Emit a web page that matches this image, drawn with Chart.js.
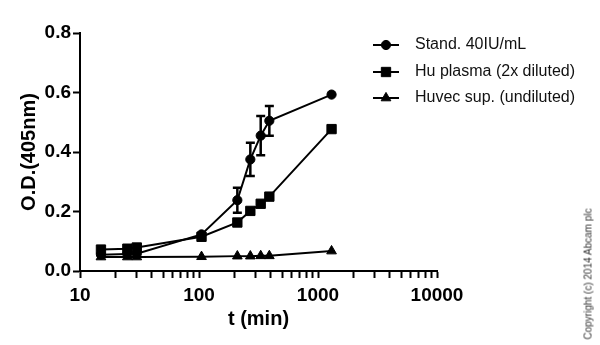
<!DOCTYPE html>
<html>
<head>
<meta charset="utf-8">
<title>O.D. over time</title>
<script src="https://cdn.jsdelivr.net/npm/chart.js@4.4.1/dist/chart.umd.min.js"></script>
<style>
    html, body { margin: 0; padding: 0; background: #fff; }
    #wrap { position: relative; width: 600px; height: 345px; }
    #copyright {
        position: absolute;
        left: 588px;
        top: 274px;
        transform: translate(-50%, -50%) rotate(-90deg);
        font: 10px 'Liberation Sans', Arial, sans-serif;
        color: #333;
        white-space: nowrap;
    }
</style>
</head>
<body>
<div id="wrap">
    <canvas id="odChart" width="600" height="345"></canvas>
    <div id="copyright">Copyright (c) 2014 Abcam plc</div>
</div>
<script>
// Data
const timeMin = [15, 25, 30, 105, 210, 270, 330, 390, 1300];
const standOD = [0.055, 0.057, 0.058, 0.123, 0.238, 0.375, 0.455, 0.505, 0.593];
const standErr = [0, 0, 0, 0, 0.042, 0.056, 0.066, 0.05, 0];
const plasmaOD = [0.072, 0.075, 0.079, 0.115, 0.163, 0.202, 0.226, 0.25, 0.477];
const huvecOD = [0.047, 0.047, 0.047, 0.048, 0.05, 0.05, 0.051, 0.051, 0.067];

const seriesNames = ['Stand. 40IU/mL', 'Hu plasma (2x diluted)', 'Huvec sup. (undiluted)'];
const xMajorTicks = [10, 100, 1000, 10000];
const yTicks = [0, 0.2, 0.4, 0.6, 0.8];

function toPoints(values) {
    return timeMin.map((t, i) => ({ x: t, y: values[i] }));
}

// Vertical error bars with caps
const errorBarPlugin = {
    id: 'errorBars',
    afterDatasetsDraw(chart) {
        const meta = chart.getDatasetMeta(0);
        const yScale = chart.scales.y;
        const ctx = chart.ctx;
        ctx.save();
        ctx.strokeStyle = '#000';
        ctx.lineWidth = 2.5;
        meta.data.forEach((pt, i) => {
            const err = standErr[i];
            if (!err) return;
            const top = yScale.getPixelForValue(standOD[i] + err);
            const bottom = yScale.getPixelForValue(standOD[i] - err);
            ctx.beginPath();
            ctx.moveTo(pt.x, top);
            ctx.lineTo(pt.x, bottom);
            ctx.moveTo(pt.x - 4.5, top);
            ctx.lineTo(pt.x + 4.5, top);
            ctx.moveTo(pt.x - 4.5, bottom);
            ctx.lineTo(pt.x + 4.5, bottom);
            ctx.stroke();
        });
        ctx.restore();
    }
};

// Legend with line + marker, like the original
const lineLegendPlugin = {
    id: 'lineLegend',
    afterDraw(chart) {
        const ctx = chart.ctx;
        const rows = [45, 72, 98];
        ctx.save();
        chart.data.datasets.forEach((ds, i) => {
            const y = rows[i];
            ctx.strokeStyle = '#000';
            ctx.fillStyle = '#000';
            ctx.lineWidth = 2;
            ctx.beginPath();
            ctx.moveTo(373, y);
            ctx.lineTo(399, y);
            ctx.stroke();
            ctx.lineWidth = 1;
            Chart.helpers.drawPoint(ctx, {
                pointStyle: ds.pointStyle,
                radius: ds.pointRadius,
                rotation: 0,
                borderWidth: 1
            }, 386, y);
            ctx.fillStyle = '#111';
            ctx.font = "16px 'Liberation Sans', Arial, sans-serif";
            ctx.textBaseline = 'middle';
            ctx.textAlign = 'left';
            ctx.fillText(ds.label, 415, y);
        });
        ctx.restore();
    }
};

function makeDataset(label, values, style, radius) {
    return {
        label: label,
        data: toPoints(values),
        borderColor: '#000',
        backgroundColor: '#000',
        borderWidth: 2,
        pointStyle: style,
        pointRadius: radius,
        pointHoverRadius: radius,
        pointBorderWidth: 1,
        tension: 0
    };
}

function initChart() {
    const ctx = document.getElementById('odChart');
    Chart.defaults.color = '#000';
    Chart.defaults.font.family = "'Liberation Sans', Arial, sans-serif";

    new Chart(ctx, {
        type: 'line',
        data: {
            datasets: [
                makeDataset(seriesNames[0], standOD, 'circle', 4.6),
                makeDataset(seriesNames[1], plasmaOD, 'rect', 6.6),
                makeDataset(seriesNames[2], huvecOD, 'triangle', 5.6)
            ]
        },
        options: {
            responsive: false,
            animation: false,
            layout: {
                padding: { top: 33, right: 163, bottom: 0, left: 0 }
            },
            plugins: {
                legend: { display: false },
                tooltip: { enabled: false }
            },
            scales: {
                x: {
                    type: 'logarithmic',
                    min: 10,
                    max: 10000,
                    afterFit: scale => { scale.height = 74; },
                    afterBuildTicks: scale => {
                        const values = [];
                        xMajorTicks.forEach((d, i) => {
                            values.push(d);
                            if (i < xMajorTicks.length - 1) {
                                for (let m = 2; m <= 9; m++) values.push(d * m);
                            }
                        });
                        scale.ticks = values.map(v => ({ value: v, major: xMajorTicks.includes(v) }));
                    },
                    border: { display: true, color: '#000', width: 2 },
                    grid: {
                        drawOnChartArea: false,
                        drawTicks: true,
                        tickLength: 7,
                        tickWidth: 2,
                        tickColor: '#000'
                    },
                    ticks: {
                        autoSkip: false,
                        maxRotation: 0,
                        padding: 6,
                        color: '#000',
                        font: { size: 19, weight: 'bold' },
                        callback: value => xMajorTicks.includes(value) ? String(value) : ''
                    },
                    title: {
                        display: true,
                        text: 't (min)',
                        color: '#000',
                        font: { size: 20, weight: 'bold' },
                        padding: { top: 0, bottom: 14 }
                    }
                },
                y: {
                    min: 0,
                    max: 0.8,
                    afterFit: scale => { scale.width = 80; },
                    afterBuildTicks: scale => {
                        scale.ticks = yTicks.map(v => ({ value: v }));
                    },
                    border: { display: true, color: '#000', width: 2 },
                    grid: {
                        drawOnChartArea: false,
                        drawTicks: true,
                        tickLength: 7,
                        tickWidth: 2,
                        tickColor: '#000'
                    },
                    ticks: {
                        padding: 2,
                        color: '#000',
                        font: { size: 19, weight: 'bold' },
                        callback: value => value.toFixed(1)
                    },
                    title: {
                        display: true,
                        text: 'O.D.(405nm)',
                        color: '#000',
                        font: { size: 20, weight: 'bold' },
                        padding: { top: 17, bottom: 0 }
                    }
                }
            }
        },
        plugins: [errorBarPlugin, lineLegendPlugin]
    });
}

document.addEventListener('DOMContentLoaded', () => {
    initChart();
});
</script>
</body>
</html>
